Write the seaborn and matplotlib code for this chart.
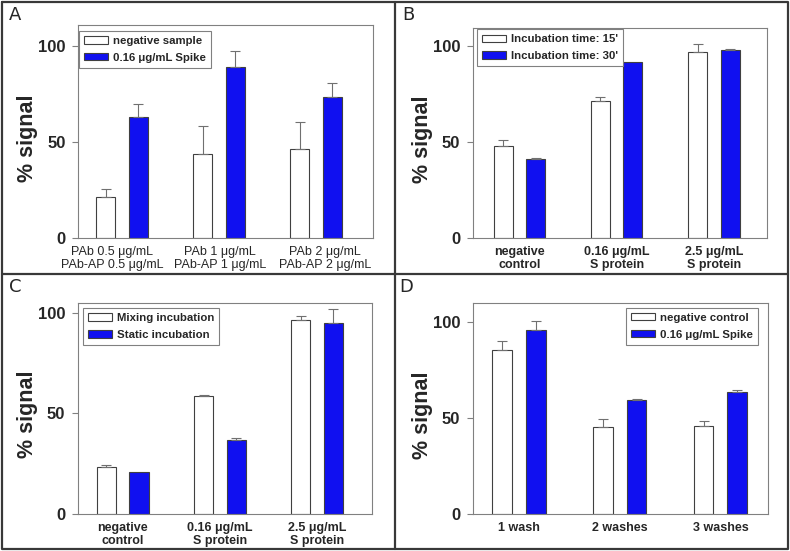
import pandas as pd
import seaborn as sns
import matplotlib
matplotlib.use('Agg')
import matplotlib.pyplot as plt
from matplotlib.lines import Line2D
from matplotlib.transforms import ScaledTranslation

# Panel A
a_groups = ['PAb 0.5 \u03bcg/mL\nPAb-AP 0.5 \u03bcg/mL', 'PAb 1 \u03bcg/mL\nPAb-AP 1 \u03bcg/mL', 'PAb 2 \u03bcg/mL\nPAb-AP 2 \u03bcg/mL']
a_series = ['negative sample', '0.16 \u03bcg/mL Spike']
a_neg = [21.4, 43.6, 46.2]
a_neg_err = [4.1, 14.6, 14.4]
a_spike = [63.2, 89.2, 73.6]
a_spike_err = [6.8, 8.0, 7.0]

# Panel B
b_groups = ['negative\ncontrol', '0.16 \u03bcg/mL\nS protein', '2.5 \u03bcg/mL\nS protein']
b_series = ["Incubation time: 15'", "Incubation time: 30'"]
b_15 = [47.8, 71.6, 97.0]
b_15_err = [3.1, 2.1, 4.4]
b_30 = [41.3, 91.8, 98.2]
b_30_err = [0.3, 0.0, 0.3]

# Panel C
c_groups = ['negative\ncontrol', '0.16 \u03bcg/mL\nS protein', '2.5 \u03bcg/mL\nS protein']
c_series = ['Mixing incubation', 'Static incubation']
c_mix = [23.2, 58.8, 96.2]
c_mix_err = [1.0, 0.2, 2.0]
c_static = [21.0, 36.6, 95.0]
c_static_err = [0.0, 1.0, 7.0]

# Panel D
d_groups = ['1 wash', '2 washes', '3 washes']
d_series = ['negative control', '0.16 \u03bcg/mL Spike']
d_neg = [85.3, 45.1, 45.7]
d_neg_err = [4.5, 4.2, 2.7]
d_spike = [95.5, 59.2, 63.2]
d_spike_err = [4.9, 0.7, 1.4]

yticks = [0, 50, 100]
blue = '#1010F0'
edge = '#404040'
grey = '#808080'

sns.set_theme(style='ticks')
plt.rcParams['font.family'] = ['Liberation Sans', 'DejaVu Sans']

fig = plt.figure(figsize=(7.9, 5.51), dpi=100)


def panel(rect, groups, series, v1, e1, v2, e2, ylim, xlim, leg_loc, leg_anchor, bold_x=True):
    ax = fig.add_axes(rect)
    df = pd.DataFrame({
        'group': groups + groups,
        'value': v1 + v2,
        'series': [series[0]] * len(groups) + [series[1]] * len(groups),
    })
    sns.barplot(data=df, x='group', y='value', hue='series', palette=['white', blue],
                saturation=1, width=0.67, gap=0.415, edgecolor=edge, linewidth=0.8,
                errorbar=None, ax=ax)
    for cont, errs in zip(ax.containers, [e1, e2]):
        for patch, e in zip(cont, errs):
            if e <= 0:
                continue
            x = patch.get_x() + patch.get_width() / 2
            ax.errorbar(x, patch.get_height(), yerr=[[0], [e]], fmt='none',
                        ecolor='#707070', elinewidth=0.8, capsize=3.5, capthick=0.8)
    ax.set_ylim(*ylim)
    ax.set_xlim(*xlim)
    ax.set_yticks(yticks)
    ax.set_xlabel('')
    ax.set_ylabel('% signal', fontsize=15.5, fontweight='bold')
    ax.yaxis.set_label_coords(-0.135, 0.47)
    for s in ax.spines.values():
        s.set_color(grey)
        s.set_linewidth(0.8)
    ax.tick_params(axis='y', length=4, width=0.8, color=grey, pad=5, labelsize=12)
    ax.tick_params(axis='x', length=0, pad=6, labelsize=9)
    for t in ax.get_yticklabels():
        t.set_fontweight('bold')
    for t in ax.get_xticklabels():
        t.set_fontweight('bold' if bold_x else 'normal')
        t.set_linespacing(1.05)
    handles, labels = ax.get_legend_handles_labels()
    leg = ax.legend(handles, labels, loc=leg_loc, bbox_to_anchor=leg_anchor, borderaxespad=0,
                    frameon=True, fancybox=False, framealpha=1, edgecolor=grey,
                    prop={'weight': 'bold', 'size': 8.2}, handlelength=2.1, handleheight=0.6,
                    handletextpad=0.45, labelspacing=0.6, borderpad=0.45)
    leg.get_frame().set_linewidth(0.8)
    return ax


ax_a = panel([0.0987, 0.5681, 0.3734, 0.3866], a_groups, a_series, a_neg, a_neg_err, a_spike, a_spike_err,
             (0, 111), (-0.455, 2.59), 'upper left', (0.003, 0.972), bold_x=False)
# spread the long labels of panel A apart as in the original
for t, dx in zip(ax_a.get_xticklabels(), [-7, 1, 6.5]):
    t.set_transform(t.get_transform() + ScaledTranslation(dx / 72, 0, fig.dpi_scale_trans))

panel([0.5984, 0.5681, 0.3728, 0.3811], b_groups, b_series, b_15, b_15_err, b_30, b_30_err,
      (0, 109.5), (-0.48, 2.55), 'upper left', (0.013, 0.995))
panel([0.0984, 0.0672, 0.3722, 0.3835], c_groups, c_series, c_mix, c_mix_err, c_static, c_static_err,
      (0, 105), (-0.463, 2.563), 'upper left', (0.017, 0.975))
panel([0.5984, 0.0672, 0.3734, 0.3829], d_groups, d_series, d_neg, d_neg_err, d_spike, d_spike_err,
      (0, 109.7), (-0.46, 2.47), 'upper right', (0.967, 0.978))

# panel letters
for lbl, x, y in [('A', 9, 20), ('B', 402, 20), ('C', 9, 292), ('D', 399, 292)]:
    fig.text(x / 790, 1 - y / 551, lbl, fontsize=13, va='baseline', ha='left',
             family=['DejaVu Sans'])

# panel frames
fc = '#383838'
lw = 1.6
fig.add_artist(Line2D([2 / 790, 788 / 790, 788 / 790, 2 / 790, 2 / 790],
                      [1 - 2 / 551, 1 - 2 / 551, 2 / 551, 2 / 551, 1 - 2 / 551],
                      color=fc, lw=lw, transform=fig.transFigure))
fig.add_artist(Line2D([395 / 790, 395 / 790], [2 / 551, 1 - 2 / 551], color=fc, lw=lw,
                      transform=fig.transFigure))
fig.add_artist(Line2D([2 / 790, 788 / 790], [1 - 274 / 551, 1 - 274 / 551], color=fc, lw=lw,
                      transform=fig.transFigure))

fig.savefig('out.png', dpi=100)
